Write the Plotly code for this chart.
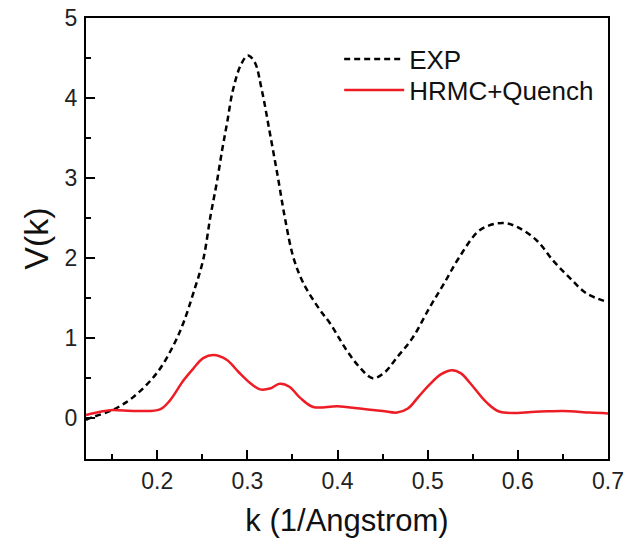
import plotly.graph_objects as go

exp_k = [0.121, 0.13, 0.15, 0.173, 0.2, 0.218, 0.229, 0.24, 0.251, 0.259, 0.266, 0.272,
         0.2775, 0.284, 0.293, 0.3005, 0.308, 0.316, 0.325, 0.334, 0.342, 0.351, 0.362,
         0.38, 0.392, 0.41, 0.425, 0.439, 0.452, 0.466, 0.483, 0.502, 0.518, 0.535,
         0.558, 0.583, 0.599, 0.621, 0.639, 0.657, 0.676, 0.7]
exp_v = [-0.02, 0.02, 0.1, 0.26, 0.57, 0.91, 1.19, 1.56, 1.98, 2.52, 2.94, 3.35,
         3.69, 4.1, 4.42, 4.53, 4.45, 4.1, 3.56, 3.0, 2.48, 2.01, 1.69,
         1.36, 1.18, 0.85, 0.63, 0.5, 0.57, 0.76, 1.0, 1.38, 1.68, 2.01,
         2.35, 2.44, 2.39, 2.22, 1.97, 1.76, 1.56, 1.45]

hrmc_k = [0.121, 0.137, 0.148, 0.178, 0.203, 0.214, 0.229, 0.24, 0.251, 0.262, 0.277,
          0.29, 0.303, 0.314, 0.325, 0.336, 0.347, 0.358, 0.373, 0.4, 0.425, 0.45,
          0.466, 0.478, 0.49, 0.502, 0.515, 0.527, 0.537, 0.547, 0.565, 0.58, 0.62, 0.65,
          0.68, 0.7]
hrmc_v = [0.04, 0.08, 0.1, 0.09, 0.11, 0.22, 0.47, 0.62, 0.75, 0.79, 0.73,
          0.58, 0.44, 0.36, 0.37, 0.43, 0.39, 0.26, 0.14, 0.15, 0.12, 0.09,
          0.07, 0.12, 0.27, 0.42, 0.55, 0.6, 0.56, 0.44, 0.2, 0.08, 0.08, 0.09,
          0.07, 0.06]

x_ticks = [0.2, 0.3, 0.4, 0.5, 0.6, 0.7]
y_ticks = [0, 1, 2, 3, 4, 5]

FONT = "Arial, 'Liberation Sans', sans-serif"

fig = go.Figure()
fig.add_trace(go.Scatter(x=exp_k, y=exp_v, mode="lines", name="EXP", legend="legend",
                         line=dict(color="black", width=2.5, dash="6px,4px", shape="spline", smoothing=1.0)))
fig.add_trace(go.Scatter(x=hrmc_k, y=hrmc_v, mode="lines", name="HRMC+Quench", legend="legend2",
                         line=dict(color="#ee1c25", width=2.5, shape="spline", smoothing=1.0)))

axis_common = dict(showgrid=False, zeroline=False, showline=True, linecolor="black",
                   linewidth=2, mirror=True, ticks="inside", ticklen=9, tickwidth=2,
                   tickcolor="black", automargin=False, ticklabeloverflow="allow",
                   tickfont=dict(family=FONT, size=23, color="#222"))

fig.update_xaxes(range=[0.121, 0.7], tickvals=x_ticks, ticktext=[str(v) for v in x_ticks],
                 minor=dict(dtick=0.05, tick0=0.15, ticks="inside", ticklen=5, tickwidth=2, tickcolor="black"),
                 title=dict(text="k (1/Angstrom)", font=dict(family=FONT, size=31, color="#111"), standoff=17),
                 **axis_common)
fig.update_yaxes(range=[-0.51, 5], tickvals=y_ticks, ticktext=[str(v) for v in y_ticks],
                 minor=dict(dtick=0.5, tick0=0.5, ticks="inside", ticklen=5, tickwidth=2, tickcolor="black"),
                 title=dict(text="V(k)", font=dict(family=FONT, size=34, color="#111"), standoff=6),
                 ticklabelstandoff=2,
                 **axis_common)

leg_common = dict(xanchor="left", yanchor="top", bgcolor="rgba(0,0,0,0)", borderwidth=0,
                  font=dict(family=FONT, size=26, color="#111"), itemwidth=60)

fig.update_layout(
    width=639, height=544,
    margin=dict(l=86, r=31, t=18, b=85),
    plot_bgcolor="white", paper_bgcolor="white",
    showlegend=True,
    legend=dict(x=0.485, y=0.96, **leg_common),
    legend2=dict(x=0.485, y=0.89, **leg_common),
)

fig.write_html("out.html", config={"displayModeBar": False},
               post_script="document.body.style.margin='0';")
